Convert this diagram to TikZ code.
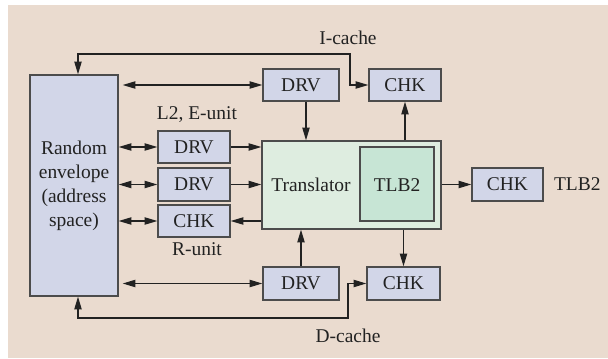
\documentclass[tikz,border=0pt]{standalone}
\usepackage{fontspec}
\setmainfont{Liberation Serif}
\usetikzlibrary{arrows.meta,calc}
\definecolor{bgcol}{HTML}{EADBCF}
\definecolor{unitcol}{HTML}{D2D6E8}
\definecolor{transcol}{HTML}{DEEDE0}
\definecolor{tlbcol}{HTML}{C7E5D5}
\definecolor{edgecol}{HTML}{4C4C4C}
\definecolor{inkcol}{HTML}{222222}
\begin{document}
\begin{tikzpicture}[x=0.75pt,y=-0.75pt,
  font=\fontsize{14.6}{17}\selectfont, text=inkcol,
  unit/.style={draw=edgecol, line width=1.1pt, fill=unitcol, inner sep=0pt},
  link/.style={draw=inkcol, line width=0.8pt, -{Triangle[length=9.5pt,width=5.5pt]}},
  twoway/.style={draw=inkcol, line width=0.8pt, {Triangle[length=9.5pt,width=5.5pt]}-{Triangle[length=9.5pt,width=5.5pt]}},
  lbl/.style={inner sep=0pt}]
\useasboundingbox (0,0) rectangle (608,358);
\fill[bgcol] (8,5) rectangle (608,358);

% address space
\node[unit, minimum width=88*0.75pt, minimum height=221*0.75pt, align=center,
      font=\fontsize{14.6}{18}\selectfont] (env) at (74,185.5)
  {Random\\envelope\\(address\\space)};

% drivers and checkers
\node[unit, minimum width=76*0.75pt, minimum height=32*0.75pt] (drvT) at (301,85) {DRV};
\node[unit, minimum width=72*0.75pt, minimum height=32*0.75pt] (chkT) at (405,85) {CHK};
\node[unit, minimum width=72*0.75pt, minimum height=32*0.75pt] (drv1) at (194,147) {DRV};
\node[unit, minimum width=72*0.75pt, minimum height=33*0.75pt] (drv2) at (194,184.5) {DRV};
\node[unit, minimum width=72*0.75pt, minimum height=32*0.75pt] (chkR) at (194,221) {CHK};
\node[unit, minimum width=76*0.75pt, minimum height=33*0.75pt] (drvB) at (301,283.5) {DRV};
\node[unit, minimum width=73*0.75pt, minimum height=33*0.75pt] (chkB) at (403.5,283.5) {CHK};
\node[unit, minimum width=71*0.75pt, minimum height=33*0.75pt] (chkL) at (507.5,184.5) {CHK};

% translator with its TLB
\node[draw=edgecol, line width=1.1pt, fill=transcol, minimum width=179*0.75pt,
      minimum height=88*0.75pt] (trans) at (351.5,185) {};
\node[draw=edgecol, line width=1.1pt, fill=tlbcol, minimum width=74*0.75pt,
      minimum height=74*0.75pt] (tlb) at (397,184) {};
\node[lbl] (tlbname0) at (397,185) {TLB2};
\node[lbl] (tname) at (311,185) {Translator};

% labels
\node[lbl] (icache) at (348,38) {I-cache};
\node[lbl] (dcache) at (348,336) {D-cache};
\node[lbl] (l2) at (197,115) {L2, E-unit};
\node[lbl] (runit) at (197,249) {R-unit};
\node[lbl, anchor=west] (tlbname) at ($(chkL.east)+(10,0)$) {TLB2};

% bends of the cache loops
\coordinate (envtop) at ($(env.north)+(4,0)$);
\coordinate (envbot) at ($(env.south)+(4,0)$);
\coordinate (itop) at (350,54);
\coordinate (dbot) at (348,318);
\coordinate (drvTout) at ($(drvT.south)+(5,0)$);

% I-cache and D-cache loops
\draw[twoway] (envtop) |- (itop) |- (chkT.west);
\draw[twoway] (envbot) |- (dbot) |- (chkB.west);

% envelope to drivers and checkers
\draw[twoway, shorten <=3pt] (env.east |- drvT.west) -- (drvT.west);
\draw[twoway] (env.east |- drv1.west) -- (drv1.west);
\draw[twoway] (env.east |- drv2.west) -- (drv2.west);
\draw[twoway] (env.east |- chkR.west) -- (chkR.west);
\draw[twoway, shorten <=3pt] (env.east |- drvB.west) -- (drvB.west);

% translator connections
\draw[link] (drv1.east) -- (trans.west |- drv1.east);
\draw[link] (drv2.east) -- (trans.west |- drv2.east);
\draw[link] (trans.west |- chkR.east) -- (chkR.east);
\draw[link] (drvTout) -- (drvTout |- trans.north);
\draw[link] (trans.north -| chkT.south) -- (chkT.south);
\draw[link] (drvB.north) -- (trans.south -| drvB.north);
\draw[link] (trans.south -| chkB.north) -- (chkB.north);
\draw[link] (trans.east |- chkL.west) -- (chkL.west);
\end{tikzpicture}
\end{document}
